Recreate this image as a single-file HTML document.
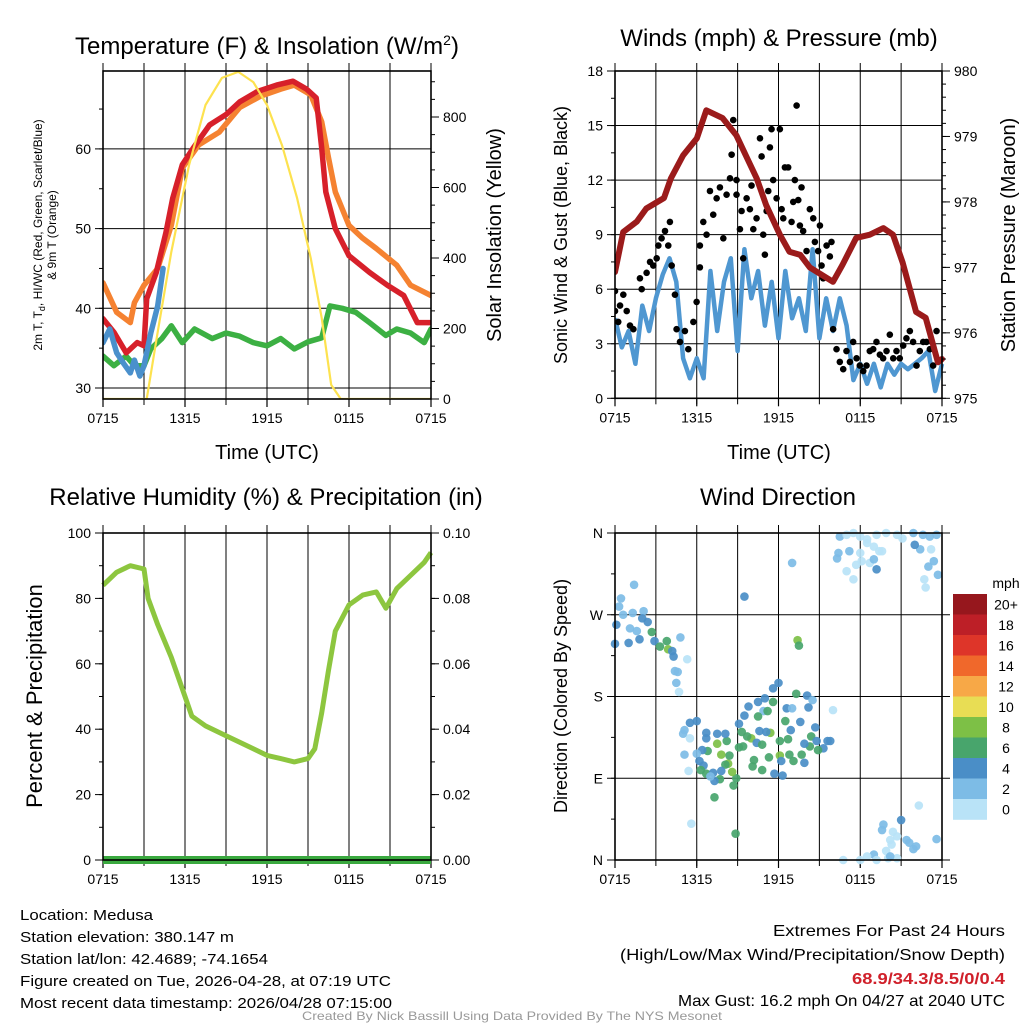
<!DOCTYPE html>
<html><head><meta charset="utf-8"><style>
html,body{margin:0;padding:0;background:#fff;width:1024px;height:1024px;overflow:hidden}
svg text{font-family:"Liberation Sans",sans-serif;fill:#000}
</style></head><body>
<svg id="chart" xmlns="http://www.w3.org/2000/svg" width="1024" height="1024" viewBox="0 0 1024 1024">
<g id="p1"></g>
<g id="p2"></g>
<g id="p3"></g>
<g id="p4"></g>
<g id="cb"></g>
<text x="267" y="54" font-size="24" text-anchor="middle">Temperature (F) &amp; Insolation (W/m<tspan font-size="14" dy="-9">2</tspan><tspan dy="9">)</tspan></text>
<text x="779" y="46" font-size="24" text-anchor="middle">Winds (mph) &amp; Pressure (mb)</text>
<text x="266" y="505" font-size="24" text-anchor="middle">Relative Humidity (%) &amp; Precipitation (in)</text>
<text x="778" y="505" font-size="24" text-anchor="middle">Wind Direction</text>
<text x="267" y="459" font-size="20" text-anchor="middle">Time (UTC)</text>
<text x="779" y="459" font-size="20" text-anchor="middle">Time (UTC)</text>
<text transform="translate(42,235) rotate(-90)" font-size="12" text-anchor="middle">2m T, T<tspan font-size="9" dy="3">d</tspan><tspan dy="-3">, HI/WC (Red, Green, Scarlet/Blue)</tspan></text>
<text transform="translate(56,235) rotate(-90)" font-size="12" text-anchor="middle">&amp; 9m T (Orange)</text>
<text transform="translate(501,235) rotate(-90)" font-size="20" text-anchor="middle">Solar Insolation (Yellow)</text>
<text transform="translate(567,235) rotate(-90)" font-size="18" text-anchor="middle">Sonic Wind &amp; Gust (Blue, Black)</text>
<text transform="translate(1015,235) rotate(-90)" font-size="20" text-anchor="middle">Station Pressure (Maroon)</text>
<text transform="translate(42,696) rotate(-90)" font-size="22" text-anchor="middle">Percent &amp; Precipitation</text>
<text transform="translate(567,696) rotate(-90)" font-size="18" text-anchor="middle">Direction (Colored By Speed)</text>
<text x="1006" y="588" font-size="14" text-anchor="middle">mph</text>
<g font-size="15">
<text x="20" y="920" textLength="133" lengthAdjust="spacingAndGlyphs">Location: Medusa</text>
<text x="20" y="942" textLength="214" lengthAdjust="spacingAndGlyphs">Station elevation: 380.147 m</text>
<text x="20" y="964" textLength="248" lengthAdjust="spacingAndGlyphs">Station lat/lon: 42.4689; -74.1654</text>
<text x="20" y="986" textLength="371" lengthAdjust="spacingAndGlyphs">Figure created on Tue, 2026-04-28, at 07:19 UTC</text>
<text x="20" y="1008" textLength="372" lengthAdjust="spacingAndGlyphs">Most recent data timestamp: 2026/04/28 07:15:00</text>
</g>
<g font-size="16">
<text x="773" y="936" textLength="232" lengthAdjust="spacingAndGlyphs">Extremes For Past 24 Hours</text>
<text x="620" y="960" textLength="385" lengthAdjust="spacingAndGlyphs">(High/Low/Max Wind/Precipitation/Snow Depth)</text>
<text x="852" y="984" textLength="153" lengthAdjust="spacingAndGlyphs" font-weight="bold" style="fill:#d0202a">68.9/34.3/8.5/0/0.4</text>
<text x="678" y="1006" textLength="327" lengthAdjust="spacingAndGlyphs">Max Gust: 16.2 mph On 04/27 at 2040 UTC</text>
</g>
<text x="302" y="1020" font-size="12" textLength="420" lengthAdjust="spacingAndGlyphs" style="fill:#999">Created By Nick Bassill Using Data Provided By The NYS Mesonet</text>
</svg>
<script>
// ---- data ----
const xTickLabels = ["0715","1315","1915","0115","0715"];
const tempTicks = [30,40,50,60];
const solarTicks = [0,200,400,600,800];
const windTicks = [0,3,6,9,12,15,18];
const presTicks = [975,976,977,978,979,980];
const rhTicks = [0,20,40,60,80,100];
const precipTicks = ["0.00","0.02","0.04","0.06","0.08","0.10"];
const dirTicks = ["N","E","S","W","N"];

const redH = [0,0.8,1.7,2.5,3,3.2,3.9,4.6,5.1,5.8,6.6,7.8,9,10,11.3,12.7,13.9,14.9,15.6,16,16.3,17,18,19.5,20.8,22,23,24];
const redT = [38.7,37,34.4,35.7,35.3,41.2,44.5,49.5,53.8,58,60.1,63,64.3,65.9,67.2,68,68.5,67.5,66.4,60.1,54.6,50,46.6,44.5,42.9,41.6,38.2,38.2];
const orangeH = [0,1,2,2.3,3,4,5,5.8,7,8.5,10,11.5,13,14,15.2,16,16.5,17,18,19,20,21.5,22.5,24];
const orangeT = [43.2,39.5,38.2,40.7,42.9,45,50.4,57.6,60.5,62.1,65.2,66.6,67.5,68,66.8,63.4,58.9,54.6,50.4,48.8,47.5,45.4,42.9,41.6];
const greenH = [0,0.8,1.7,2.3,3,3.5,4.3,5,5.8,6.7,8,9,10,11,12,13,14,15,16,16.6,17.5,18.5,19.5,20.7,21.5,22.5,23.5,24];
const greenT = [34,32.8,34,32.8,32.8,34.9,36.2,37.8,35.7,37.4,36.2,36.9,36.5,35.7,35.3,36.2,34.9,35.8,36.3,40.3,40,39.5,38.2,36.6,37.4,36.9,35.7,37.4];
const blueH = [0,0.5,1,1.5,2,2.3,2.7,3,3.5,4,4.4];
const blueT = [35.7,37.4,34.4,33.1,31.9,33.5,31.5,32.8,36.9,40.3,45];
const solarH = [0,3.2,4,5,6.3,7.5,8.7,9.9,11,12,13.1,14.2,15.2,16,16.7,17.4,24];
const solarW = [0,0,190,417,664,834,911,928,899,834,720,570,400,230,40,0,0];

const windSpd = [4.4,2.8,3.7,1.9,5.1,3.7,5.5,6.8,7.7,6.4,2.2,1.1,2.2,1.1,7.0,3.7,6.4,7.7,2.6,8.2,5.5,7.0,4.0,6.4,3.3,7.0,4.4,5.5,3.7,8.2,3.3,5.5,3.7,5.5,4.0,1.0,1.9,0.8,1.9,0.6,1.9,1.3,1.9,1.6,1.9,2.2,2.6,0.4,1.9];
const gustH = [0,0,0.37,0.61,0.24,0.86,1.1,1.35,1.83,1.96,2.32,2.57,2.81,3.06,3.18,3.42,3.67,3.91,4.03,4.16,4.4,4.52,4.77,5.13,5.38,5.75,5.99,6.23,6.23,6.48,6.72,6.97,7.21,7.46,7.7,7.95,8.19,8.44,8.56,8.68,8.92,8.92,9.17,9.29,9.41,9.66,9.9,10.02,10.15,10.39,10.64,10.76,10.88,11.0,11.13,11.25,11.37,11.49,11.61,11.86,12.1,12.23,12.35,12.47,12.71,12.96,13.08,13.2,13.33,13.45,13.57,13.69,13.81,14.06,14.3,14.55,14.67,14.91,15.04,15.16,15.28,15.53,15.77,15.89,16.01,16.26,16.5,16.75,16.99,17.24,17.48,17.73,17.97,18.22,18.46,18.7,18.95,19.19,19.44,19.68,19.93,20.17,20.42,20.66,20.9,21.15,21.39,21.64,21.88,22.13,22.37,22.62,22.86,23.11,23.35,23.6];
const gustSpd = [5.9,4.8,5.1,5.7,4.2,4.8,4.0,3.8,6.6,6.0,6.9,7.5,7.3,7.7,8.4,8.8,9.2,8.4,9.7,7.3,5.7,3.8,3.1,3.7,2.7,4.2,5.3,8.4,7.2,9.7,9.0,11.4,10.1,11.0,11.6,8.8,11.2,12.1,13.4,15.3,12.0,11.2,9.3,10.3,7.7,11.0,10.4,11.7,9.3,9.9,14.3,13.3,9.0,7.9,10.3,11.4,13.8,14.8,12.0,11.0,14.8,10.4,9.9,12.7,12.7,9.7,10.8,12.0,16.1,10.9,9.5,11.6,9.2,8.1,10.4,9.9,8.6,8.1,9.5,7.3,6.6,8.4,7.8,8.6,3.8,2.7,2.0,1.6,2.6,2.0,3.1,2.2,1.8,1.5,1.8,2.6,2.7,3.1,2.4,2.2,2.6,3.5,2.2,2.6,2.2,2.9,3.3,3.7,3.1,1.8,2.6,3.1,3.1,2.7,1.8,3.7];
const presH = [0,0.6,1.6,2.3,3.6,4.1,5.0,6.0,6.7,7.9,8.9,9.6,10.4,11.1,12.1,12.8,13.6,14.3,16.0,16.7,17.7,18.7,19.7,20.4,21.1,22.1,22.8,23.7,24];
const presMb = [976.93,977.54,977.70,977.9,978.06,978.36,978.71,978.97,979.40,979.28,979.02,978.71,978.36,977.95,977.5,977.24,977.19,977.0,976.78,977.04,977.45,977.5,977.6,977.5,977.08,976.32,976.23,975.55,975.6];

const rhH = [0,1,2,3,3.3,4,5,6,6.5,7.5,9,10,11,12,13,14,15,15.5,16,16.5,17,18,19,20,20.7,21.5,22.5,23.5,24];
const rhPct = [84,88,90,89,80,72,62,50,44,41,38,36,34,32,31,30,31,34,45,58,70,78,81,82,77,83,87,91,94];
const precipH = [0,24];
const precipIn = [0,0];

const dirH = [16.5,17.0,17.5,18.0,18.5,19.0,19.4,16.4,16.3,17.0,17.5,17.2,18.0,18.1,18.7,19.0,19.2,19.6,19.9,20.7,21.1,21.9,22.6,23.1,22.4,23.2,23.0,23.4,22.7,22.8,23.7,22.0,23.6,17.7,18.5,19.2,
13.0,9.5,1.4,0.44,0.3,0.6,1.3,2.1,0.1,1.1,2.0,2.4,1.6,1.0,0,1.8,2.7,2.9,3.3,3.8,3.9,4.2,4.3,4.8,5.3,4.6,4.4,4.5,4.7,13.4,13.5,
12.0,11.6,13.3,14.1,14.5,16.0,11.0,11.6,9.8,10.5,10.9,11.2,10.5,9.5,9.1,12.6,13.0,14.2,12.5,13.6,12.9,14.7,14.4,14.8,15.3,15.6,15.8,14.9,14.3,13.9,12.7,12.1,11.4,11.1,10.6,10.0,9.7,9.3,9.1,9.4,10.4,10.8,11.3,12.1,12.8,13.7,13.1,13.9,12.2,10.2,10.1,10.8,11.7,12.3,8.9,8.6,8.3,8.1,8.4,7.8,7.5,6.8,6.4,6.0,5.1,6.2,6.5,6.3,6.7,7.2,7.7,7.3,7.8,8.2,7.5,8.1,6.7,6.7,6.0,5.5,5.1,5.0,5.5,5.4,8.7,7.3,5.6,8.85,7.0,
22.3,21.0,19.7,19.6,20.4,20.7,20.2,21.4,21.6,22.1,21.9,23.6,20.3,19.9,20.05,19.0,18.5,19.2,16.75,18.0,20.7,20.2];
const dirDeg = [356,358,360,356,349,345,340,338,332,318,309,340,338,329,327,331,320,340,360,358,354,360,358,356,342,342,323,329,309,300,314,347,358,325,353,358,
327,290,303,288,279,270,272,274,259,255,266,262,252,239,238,243,251,241,235,241,232,230,224,245,221,207,208,195,185,242,236,
195,189,183,181,176,165,178,174,169,174,164,164,158,159,150,167,167,168,153,152,143,146,136,131,123,131,131,121,125,128,133,131,140,141,142,134,136,141,124,125,129,127,113,115,116,116,109,107,109,110,103,99,95,93,90,97,106,105,115,116,128,120,121,117,116,109,104,99,95,96,89,87,98,131,139,139,140,134,153,151,143,139,134,98,82,69,40,29,92,
60,44,39,33,31,26,22,22,19,15,12,23,17,10,2,6,4,0,0,0,2,4];
const dirSpd = [3,1,1,1,1,1,1,3,3,1,1,3,1,1,1,3,5,1,1,1,1,3,3,3,3,1,3,3,1,1,3,5,3,1,1,1,
3,5,3,3,3,3,3,3,5,3,5,5,3,5,5,5,7,5,7,7,9,5,5,3,1,3,3,3,1,9,7,
5,5,7,5,3,1,5,7,5,5,3,7,7,5,5,5,3,5,7,5,5,5,7,5,5,5,5,7,7,5,7,7,9,5,5,9,7,7,7,7,5,7,7,9,7,7,7,5,5,7,7,7,5,5,7,9,9,7,7,9,9,7,5,3,3,5,5,7,7,5,7,5,5,7,5,5,5,5,5,5,3,3,1,1,7,7,1,7,3,
1,5,3,3,1,1,1,3,3,3,3,3,1,1,1,3,1,1,1,1,1,3];
const cbLabels = ["20+","18","16","14","12","10","8","6","4","2","0"];
const cbColors = ["#96171d","#bd1f27","#de3529","#f0682b","#f7a847","#e8dd54","#7dc046","#48a56c","#4a8ec7","#7dbce6","#b9e3f7"];

// ---- helpers ----
const NS="http://www.w3.org/2000/svg";
function mk(parent,tag,attrs){const e=document.createElementNS(NS,tag);for(const k in attrs)e.setAttribute(k,attrs[k]);parent.appendChild(e);return e;}
function txt(parent,x,y,s,size,anchor){const t=mk(parent,"text",{x:x,y:y,"font-size":size,"text-anchor":anchor});t.textContent=s;return t;}
function lin(d0,d1,r0,r1){return v=>r0+(v-d0)*(r1-r0)/(d1-d0);}
function pathOf(xs,ys,fx,fy){return xs.map((h,i)=>(i?"L":"M")+fx(h).toFixed(1)+","+fy(ys[i]).toFixed(1)).join("");}
function frame(g,L,T,R,B){
  for(let k=1;k<8;k++){const x=L+(R-L)*k/8;
    const gl=mk(g,"line",{x1:x,y1:T-8,x2:x,y2:B,stroke:"#000","stroke-width":1});
    
    
    mk(g,"line",{x1:x,y1:B,x2:x,y2:B+6,stroke:"#000","stroke-width":1});}
  for(let k=0;k<=8;k+=2){const x=L+(R-L)*k/8;
    mk(g,"line",{x1:x,y1:B,x2:x,y2:B+8,stroke:"#000","stroke-width":1.2});
    const t=txt(g,x,B+24,xTickLabels[k/2],14,"middle");
    
    }
  mk(g,"line",{x1:L,y1:T-8,x2:L,y2:T,stroke:"#000"});mk(g,"line",{x1:R,y1:T-8,x2:R,y2:T,stroke:"#000"});
}
function border(g,L,T,R,B){const r=mk(g,"rect",{x:L,y:T,width:R-L,height:B-T,fill:"none",stroke:"#000","stroke-width":1.6});
  
  }
function hgrid(g,L,R,y){mk(g,"line",{x1:L,y1:y,x2:R,y2:y,stroke:"#000","stroke-width":1});}
function leftTicks(g,L,vals,fy,labels,minorStep,lo,hi){
  vals.forEach((v,i)=>{const y=fy(v);mk(g,"line",{x1:L-8,y1:y,x2:L,y2:y,stroke:"#000"});
    const t=txt(g,L-12,y+5,labels?labels[i]:String(v),14,"end");
    
    });
  if(minorStep){for(let v=lo;v<=hi+1e-9;v+=minorStep){const y=fy(v);mk(g,"line",{x1:L-4,y1:y,x2:L,y2:y,stroke:"#000"});}}
}
function rightTicks(g,R,vals,fy,labels,minorStep,lo,hi){
  vals.forEach((v,i)=>{const y=fy(v);mk(g,"line",{x1:R,y1:y,x2:R+8,y2:y,stroke:"#000"});
    const t=txt(g,R+12,y+5,labels?labels[i]:String(v),14,"start");
    
    });
  if(minorStep){for(let v=lo;v<=hi+1e-9;v+=minorStep){const y=fy(v);mk(g,"line",{x1:R,y1:y,x2:R+4,y2:y,stroke:"#000"});}}
}

// ---- Panel 1: temperature ----
(function(){
  const g=document.getElementById("p1");const L=103,R=431,T=71,B=399;
  const fx=lin(0,24,L,R), fy=lin(30,40,388,308.3), fs=lin(0,800,399,117);
  frame(g,L,T,R,B);
  tempTicks.forEach(v=>hgrid(g,L,R,fy(v)));
  const cp=mk(g,"clipPath",{id:"c1"});mk(cp,"rect",{x:L,y:T,width:R-L,height:B-T});
  const d=mk(g,"g",{"clip-path":"url(#c1)"});
  const series=[["temp-9m-line",orangeH,orangeT,"#f58231",fy],["dewpoint-line",greenH,greenT,"#3cb043",fy],["temp-2m-line",redH,redT,"#d7202a",fy],["windchill-line",blueH,blueT,"#4a90cc",fy]];
  series.forEach(s=>{const p=mk(d,"path",{d:pathOf(s[1],s[2],fx,s[4]),fill:"none",stroke:s[3],"stroke-width":5.5,"stroke-linejoin":"round","stroke-linecap":"round"});
    
    });
  const sp=mk(d,"path",{d:pathOf(solarH,solarW,fx,fs),fill:"none",stroke:"#fde24f","stroke-width":2.2,"stroke-linejoin":"round"});
  
  
  border(g,L,T,R,B);
  leftTicks(g,L,tempTicks,fy,null,5,30,65);
  rightTicks(g,R,solarTicks,fs,null,50,0,900);
})();

// ---- Panel 2: winds ----
(function(){
  const g=document.getElementById("p2");const L=615,R=942,T=71,B=398.3;
  const fx=lin(0,24,L,R), fy=lin(0,18,B,T), fp=lin(975,980,B,T);
  frame(g,L,T,R,B);
  windTicks.forEach(v=>hgrid(g,L,R,fy(v)));
  const cp=mk(g,"clipPath",{id:"c2"});mk(cp,"rect",{x:L,y:T-5,width:R-L+3,height:B-T+5});
  const d=mk(g,"g",{"clip-path":"url(#c2)"});
  const windH=windSpd.map((v,i)=>i*0.5);
  const wp=mk(d,"path",{d:pathOf(windH,windSpd,fx,fy),fill:"none",stroke:"#4f97d1","stroke-width":4.5,"stroke-linejoin":"round"});
  
  
  gustH.forEach((h,i)=>{const c=mk(d,"circle",{cx:fx(h),cy:fy(gustSpd[i]),r:3.3,fill:"#000"});
    
    });
  const pp=mk(d,"path",{d:pathOf(presH,presMb,fx,fp),fill:"none",stroke:"#9b1b1b","stroke-width":6,"stroke-linejoin":"round","stroke-linecap":"round"});
  
  
  border(g,L,T,R,B);
  leftTicks(g,L,windTicks,fy,null,1.5,0,18);
  rightTicks(g,R,presTicks,fp,null,0.2,975,980);
})();

// ---- Panel 3: RH ----
(function(){
  const g=document.getElementById("p3");const L=103,R=431,T=533,B=860;
  const fx=lin(0,24,L,R), fy=lin(0,100,B,T), fpr=lin(0,0.1,B,T);
  frame(g,L,T,R,B);
  const rp=mk(g,"path",{d:pathOf(rhH,rhPct,fx,fy),fill:"none",stroke:"#8dc63f","stroke-width":5,"stroke-linejoin":"round"});
  
  
  const pp=mk(g,"path",{d:pathOf(precipH,precipIn,fx,fpr),fill:"none",stroke:"#3aa93f","stroke-width":8});
  
  
  border(g,L,T,R,B);
  leftTicks(g,L,rhTicks,fy,null,10,0,100);
  rightTicks(g,R,rhTicks,fy,precipTicks,10,0,100);
})();

// ---- Panel 4: wind direction ----
(function(){
  const g=document.getElementById("p4");const L=615,R=942,T=533,B=860;
  const fx=lin(0,24,L,R), fy=lin(0,360,B,T);
  frame(g,L,T,R,B);
  [90,180,270].forEach(v=>hgrid(g,L,R,fy(v)));
  const cp=mk(g,"clipPath",{id:"c4"});mk(cp,"rect",{x:L-5,y:T-5,width:R-L+10,height:B-T+10});
  const d=mk(g,"g",{"clip-path":"url(#c4)"});
  dirH.forEach((h,i)=>{const idx=10-Math.min(10,Math.floor(dirSpd[i]/2));
    const c=mk(d,"circle",{cx:fx(h),cy:fy(dirDeg[i]),r:4.3,fill:cbColors[idx],"fill-opacity":0.92});
    
    });
  border(g,L,T,R,B);
  leftTicks(g,L,[0,90,180,270,360],fy,dirTicks,45,0,360);
  [0,90,180,270,360].forEach(v=>mk(g,"line",{x1:R,y1:fy(v),x2:R+8,y2:fy(v),stroke:"#000"}));
})();

// ---- colorbar ----
(function(){
  const g=document.getElementById("cb");const x=953,w=34,top=594,h=20.5;
  cbColors.forEach((c,i)=>{const r=mk(g,"rect",{x:x,y:top+i*h,width:w,height:h+0.3,fill:c});
    
    
    const t=txt(g,1006,top+i*h+h/2+5,cbLabels[i],14,"middle");
    
    });
})();
</script>
</body></html>
